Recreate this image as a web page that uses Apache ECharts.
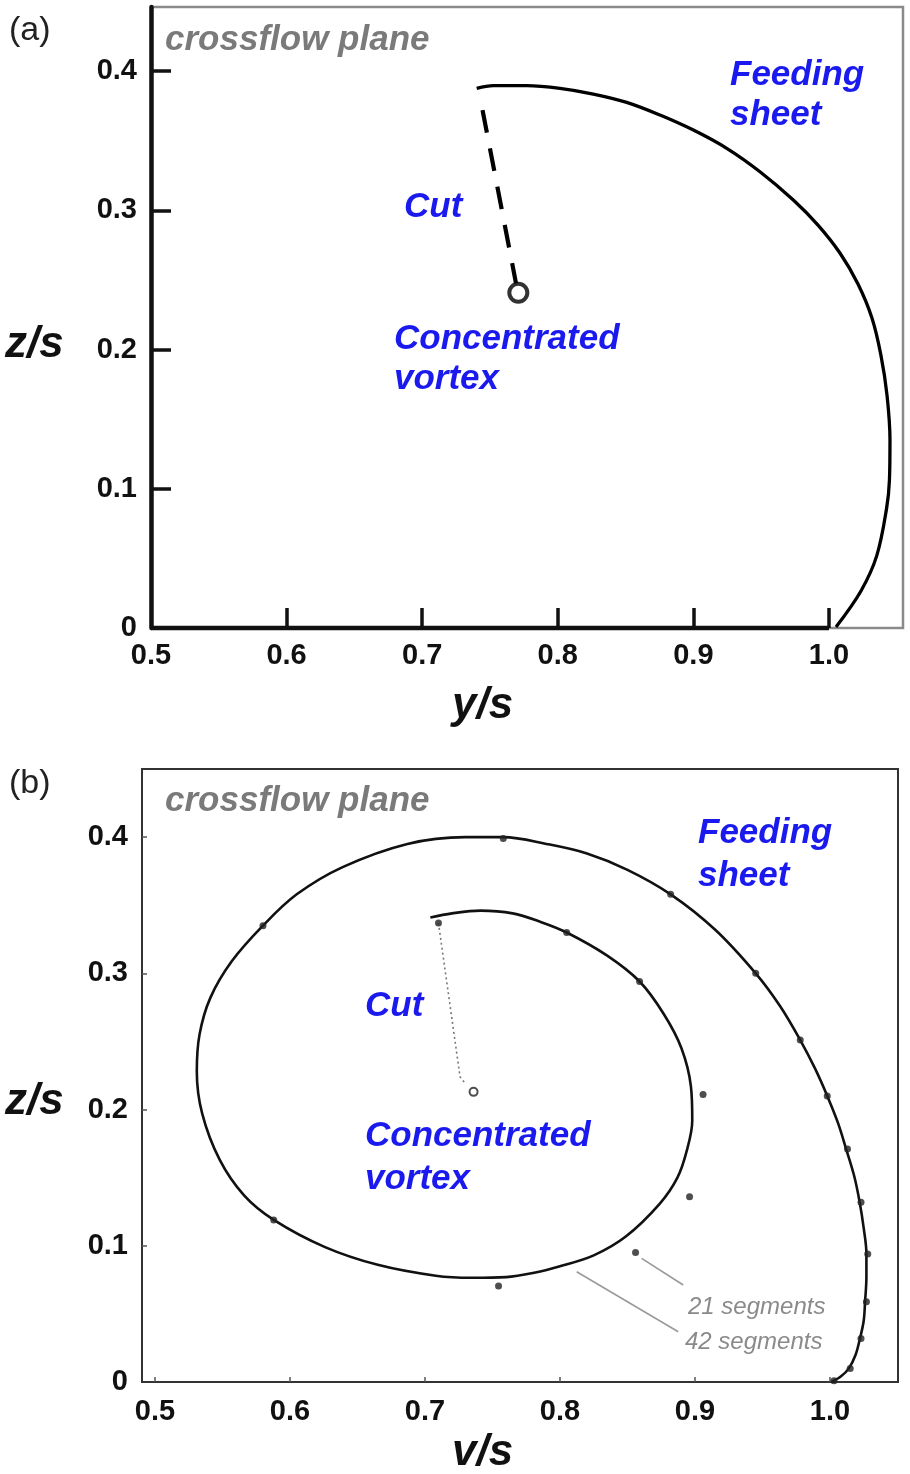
<!DOCTYPE html>
<html><head><meta charset="utf-8">
<script src="https://cdn.jsdelivr.net/npm/echarts@6/dist/echarts.min.js"></script>
<style>html,body{margin:0;padding:0;background:#fff}#c{width:910px;height:1474px}</style>
</head><body><div id="c"></div>
<script>
// ---- tick values ----
const xTicksA = [0.5, 0.6, 0.7, 0.8, 0.9, 1.0];
const yTicksA = [0, 0.1, 0.2, 0.3, 0.4];
const xTicksB = [0.5, 0.6, 0.7, 0.8, 0.9, 1.0];
const yTicksB = [0, 0.1, 0.2, 0.3, 0.4];

// ---- panel (a) ----
const sheetA = [[0.7402,0.3876],[0.7524,0.3895],[0.7771,0.3895],[0.8016,0.3876],[0.8262,0.3835],
  [0.8508,0.3775],[0.8754,0.3684],[0.9000,0.3576],[0.9246,0.3445],[0.9491,0.3277],[0.9737,0.3074],
  [0.9919,0.2894],[1.0081,0.2693],[1.0214,0.2470],[1.0317,0.2226],[1.0383,0.1960],[1.0428,0.1673],
  [1.0450,0.1350],[1.0446,0.1063],[1.0425,0.0859],[1.0352,0.0518],[1.0236,0.0266],[1.0052,0.0007]];
const cutA = [[0.7445,0.372],[0.7692,0.2475]];
const vortexA = [[0.7709,0.2408]];
const baseA = [[0.5,0],[1.0,0]];

// ---- panel (b) ----
const sheetB42 = [[1.001,0.000],[1.008,0.004],[1.014,0.010],[1.019,0.020],[1.022,0.031],[1.025,0.045],
  [1.026,0.059],[1.027,0.077],[1.027,0.094],[1.025,0.113],[1.022,0.132],[1.018,0.151],[1.012,0.171],
  [1.006,0.190],[0.998,0.210],[0.989,0.230],[0.978,0.251],[0.963,0.276],[0.945,0.300],[0.915,0.332],
  [0.882,0.358],[0.850,0.376],[0.820,0.388],[0.790,0.395],[0.758,0.400],[0.730,0.400],[0.687,0.395],
  [0.639,0.378],[0.605,0.358],[0.580,0.335],[0.557,0.309],[0.541,0.282],[0.533,0.255],[0.531,0.228],
  [0.535,0.197],[0.548,0.163],[0.566,0.137],[0.588,0.119],[0.626,0.099],[0.665,0.086],[0.708,0.078],
  [0.735,0.0765],[0.760,0.077],[0.780,0.080],[0.800,0.085],[0.825,0.093],[0.849,0.107],[0.874,0.131],
  [0.887,0.150],[0.894,0.170],[0.898,0.192],[0.897,0.217],[0.890,0.245],[0.877,0.270],[0.859,0.294],
  [0.835,0.313],[0.805,0.330],[0.785,0.338],[0.765,0.344],[0.741,0.346],[0.720,0.344],[0.704,0.341]];
const sheetB21 = [[1.003,0.001],[1.015,0.010],[1.023,0.032],[1.027,0.059],[1.028,0.094],[1.023,0.132],
  [1.013,0.171],[0.998,0.210],[0.978,0.251],[0.945,0.300],[0.882,0.358],[0.758,0.399],[0.580,0.335],
  [0.588,0.119],[0.7545,0.0704],[0.856,0.095],[0.896,0.136],[0.906,0.211],[0.859,0.294],[0.805,0.330],
  [0.710,0.337]];
const cutB = [[0.710,0.337],[0.726,0.224],[0.730,0.219]];
const vortexB = [[0.736,0.213]];
const leader21 = [[0.8605,0.0908],[0.8913,0.0712]];
const leader42 = [[0.8124,0.0809],[0.8876,0.0369]];

const FF = '"Liberation Sans", Arial, sans-serif';
const BLUE = '#1a1aee';
const GRAY = '#7a7a7a';
const fmt = v => v === 0 ? '0' : v.toFixed(1);

function txt(x, y, text, font, fill) {
  return {type:'text', x:x, y:y, z:100, style:{text:text, font:font, fill:fill, align:'left', verticalAlign:'middle'}};
}
const blueFont = 'italic bold 35px ' + FF;
const grayFont = 'italic bold 35px ' + FF;
const nameFont = 'italic bold 44px ' + FF;
const panelFont = '34px ' + FF;
const segFont = 'italic 24px ' + FF;

const graphic = [
  txt(9, 31, '(a)', panelFont, '#222'),
  txt(165, 40, 'crossflow plane', grayFont, GRAY),
  txt(730, 75, 'Feeding', blueFont, BLUE),
  txt(730, 115, 'sheet', blueFont, BLUE),
  txt(404, 207, 'Cut', blueFont, BLUE),
  txt(394, 339, 'Concentrated', blueFont, BLUE),
  txt(394, 379, 'vortex', blueFont, BLUE),
  txt(5, 345, 'z/s', nameFont, '#111'),
  txt(452, 706, 'y/s', nameFont, '#111'),

  txt(9, 784, '(b)', panelFont, '#222'),
  txt(165, 801, 'crossflow plane', grayFont, GRAY),
  txt(698, 833, 'Feeding', blueFont, BLUE),
  txt(698, 876, 'sheet', blueFont, BLUE),
  txt(365, 1006, 'Cut', blueFont, BLUE),
  txt(365, 1136, 'Concentrated', blueFont, BLUE),
  txt(365, 1179, 'vortex', blueFont, BLUE),
  txt(688, 1307, '21 segments', segFont, '#8a8a8a'),
  txt(685, 1342, '42 segments', segFont, '#8a8a8a'),
  txt(5, 1102, 'z/s', nameFont, '#111'),
  txt(452, 1453, 'v/s', nameFont, '#111')
];

const labelStyle = {color:'#111', fontFamily:FF, fontWeight:'bold', fontSize:29};

const option = {
  animation: false,
  backgroundColor: '#fff',
  grid: [
    {left:151, top:7, width:752, height:621, show:true, borderColor:'#8a8a8a', borderWidth:2.5, backgroundColor:'transparent'},
    {left:142, top:769, width:756, height:613, show:true, borderColor:'#333', borderWidth:2, backgroundColor:'transparent'}
  ],
  xAxis: [
    {type:'value', gridIndex:0, min:0.5, max:1.0546, splitLine:{show:false},
     axisLine:{show:false},
     axisTick:{show:true, inside:true, length:20, customValues:xTicksA.slice(1), lineStyle:{color:'#111', width:3.5}},
     axisLabel:{...labelStyle, margin:13, customValues:xTicksA, formatter:fmt}},
    {type:'value', gridIndex:1, min:0.4904, max:1.0504, splitLine:{show:false},
     axisLine:{show:true, onZero:false, lineStyle:{color:'#333', width:2}},
     axisTick:{show:true, inside:true, length:5, customValues:xTicksB, lineStyle:{color:'#555', width:1.5}},
     axisLabel:{...labelStyle, margin:15, customValues:xTicksB, formatter:fmt}}
  ],
  yAxis: [
    {type:'value', gridIndex:0, min:0, max:0.446, splitLine:{show:false},
     axisLine:{show:true, onZero:false, lineStyle:{color:'#111', width:4.5}},
     axisTick:{show:true, inside:true, length:20, customValues:yTicksA.slice(1), lineStyle:{color:'#111', width:3.5}},
     axisLabel:{...labelStyle, margin:14, customValues:yTicksA, formatter:fmt}},
    {type:'value', gridIndex:1, min:0, max:0.45, splitLine:{show:false},
     axisLine:{show:true, onZero:false, lineStyle:{color:'#333', width:2}},
     axisTick:{show:true, inside:true, length:5, customValues:yTicksB.slice(1), lineStyle:{color:'#555', width:1.5}},
     axisLabel:{...labelStyle, margin:14, customValues:yTicksB, formatter:fmt}}
  ],
  series: [
    {type:'line', xAxisIndex:0, yAxisIndex:0, data:baseA, showSymbol:false, symbol:'none', clip:false,
     lineStyle:{color:'#111', width:4.5}, z:3},
    {type:'line', xAxisIndex:0, yAxisIndex:0, data:sheetA, smooth:0.35, symbol:'none', clip:false,
     lineStyle:{color:'#000', width:3.3}},
    {type:'line', xAxisIndex:0, yAxisIndex:0, data:cutA, symbol:'none',
     lineStyle:{color:'#000', width:4.2, type:[23,16]}},
    {type:'scatter', xAxisIndex:0, yAxisIndex:0, data:vortexA, symbol:'circle', symbolSize:18,
     itemStyle:{color:'#fff', borderColor:'#000', borderWidth:4}},

    {type:'line', xAxisIndex:1, yAxisIndex:1, data:sheetB42, smooth:0.35, symbol:'none', clip:false,
     lineStyle:{color:'#111', width:2.6}},
    {type:'line', xAxisIndex:1, yAxisIndex:1, data:cutB, symbol:'none',
     lineStyle:{color:'#777', width:1.6, type:[2,3]}},
    {type:'scatter', xAxisIndex:1, yAxisIndex:1, data:sheetB21, symbol:'circle', symbolSize:7,
     itemStyle:{color:'#222'}, z:4},
    {type:'scatter', xAxisIndex:1, yAxisIndex:1, data:vortexB, symbol:'circle', symbolSize:8,
     itemStyle:{color:'#fff', borderColor:'#222', borderWidth:2}, z:4},
    {type:'line', xAxisIndex:1, yAxisIndex:1, data:leader21, symbol:'none',
     lineStyle:{color:'#9a9a9a', width:1.6}},
    {type:'line', xAxisIndex:1, yAxisIndex:1, data:leader42, symbol:'none',
     lineStyle:{color:'#9a9a9a', width:1.6}}
  ],
  graphic: graphic
};
const chart = echarts.init(document.getElementById('c'), null, {renderer:'canvas'});
chart.setOption(option);
</script>
</body></html>
